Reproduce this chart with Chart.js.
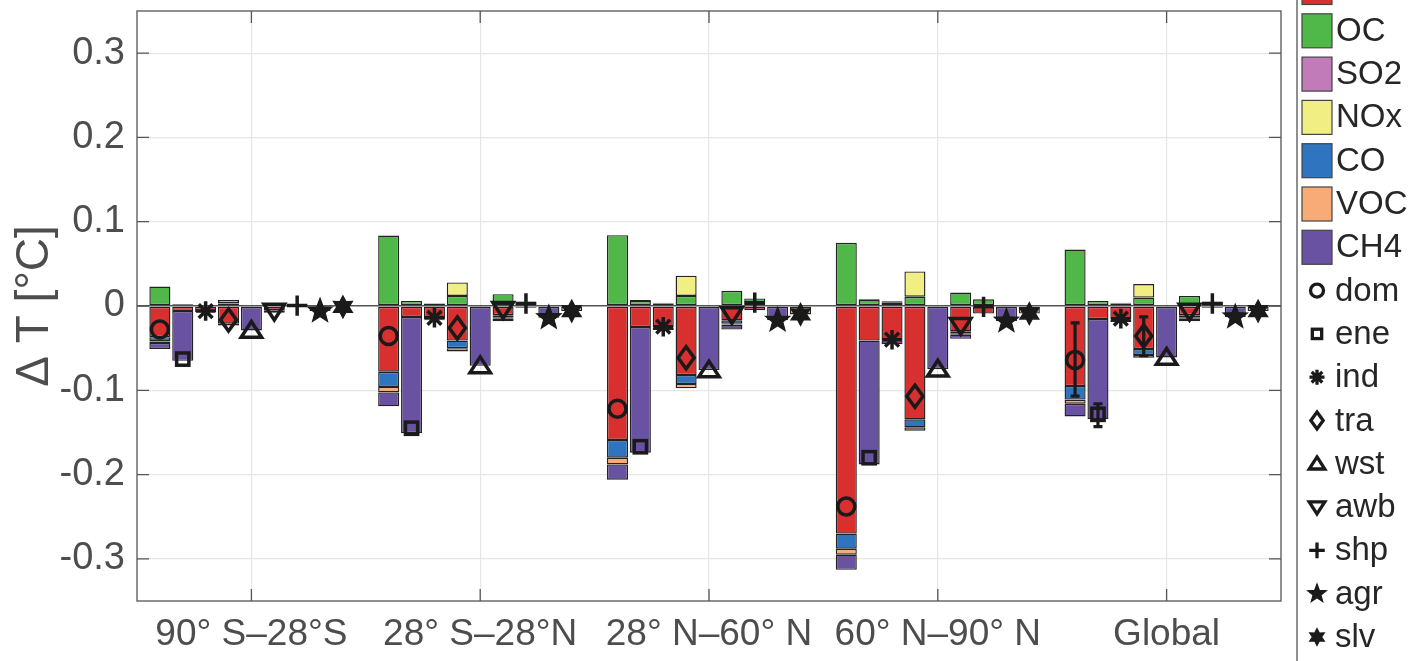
<!DOCTYPE html>
<html>
<head>
<meta charset="utf-8">
<script src="https://cdn.jsdelivr.net/npm/chart.js@4.4.1/dist/chart.umd.min.js"></script>
<style>
  html, body { margin: 0; padding: 0; background: #fff; overflow: hidden; }
  #wrap { width: 1414px; height: 661px; }
</style>
</head>
<body>
<div id="wrap"><canvas id="chart" width="1414" height="661"></canvas></div>
<script>
const regions = ['90° S–28°S', '28° S–28°N', '28° N–60° N', '60° N–90° N', 'Global'];
const species = ['BC', 'OC', 'SO2', 'NOx', 'CO', 'VOC', 'CH4'];
const speciesColors = ['#d7302f', '#50b848', '#c07bb8', '#f1ee84', '#2e74bf', '#f8ab77', '#6952a2'];
const sectors = ['dom', 'ene', 'ind', 'tra', 'wst', 'awb', 'shp', 'agr', 'slv'];
const sectorShapes = ['circle', 'square', 'asterisk', 'diamond', 'triUp', 'triDown', 'plus', 'pentagram', 'hexagram'];
const yTicks = [-0.3, -0.2, -0.1, 0, 0.1, 0.2, 0.3];

// dT [degC] per sector: one row per species (BC..CH4), one column per region
const dom = [
  [-0.037, -0.078, -0.159, -0.270, -0.095],
  [0.023, 0.0835, 0.084, 0.075, 0.067],
  [0, 0, 0, 0, 0],
  [0, 0, 0, 0, 0],
  [-0.005, -0.018, -0.021, -0.018, -0.016],
  [-0.002, -0.0065, -0.008, -0.007, -0.005],
  [-0.007, -0.0165, -0.018, -0.018, -0.015]
];
const ene = [
  [-0.006, -0.013, -0.025, -0.041, -0.0155],
  [0.002, 0.006, 0.006, 0.007, 0.006],
  [0, 0, 0, 0, 0],
  [0, 0, 0.001, 0.001, 0],
  [0, 0, 0, 0, 0],
  [0, 0, 0, 0, 0],
  [-0.059, -0.138, -0.149, -0.147, -0.119]
];
const ind = [
  [-0.006, -0.016, -0.0255, -0.0405, -0.016],
  [0.001, 0.003, 0.003, 0.004, 0.003],
  [0, 0, 0, 0, 0],
  [0, 0, 0.001, 0.0015, 0.001],
  [0, 0, 0, 0, 0],
  [0, 0, 0, 0, 0],
  [-0.001, -0.001, -0.003, -0.005, -0.003]
];
const tra = [
  [-0.021, -0.041, -0.082, -0.1345, -0.051],
  [0.003, 0.012, 0.012, 0.011, 0.010],
  [0, 0, 0, 0, 0],
  [0.004, 0.016, 0.024, 0.030, 0.016],
  [-0.002, -0.009, -0.0105, -0.0095, -0.007],
  [-0.0005, -0.004, -0.005, -0.004, -0.0035],
  [0, 0, 0, 0, 0]
];
const wst = [
  [0, 0, 0, 0, 0],
  [0, 0, 0, 0, 0],
  [0, 0, 0, 0, 0],
  [0, 0, 0, 0, 0],
  [0, 0, 0, 0, 0],
  [0, 0, 0, 0, 0],
  [-0.029, -0.071, -0.076, -0.075, -0.061]
];
const awb = [
  [-0.005, -0.011, -0.017, -0.030, -0.011],
  [0.002, 0.014, 0.018, 0.016, 0.012],
  [0, 0, 0, 0, 0],
  [0, 0, 0, 0, 0],
  [-0.001, -0.003, -0.004, -0.003, -0.003],
  [0, -0.001, -0.001, -0.001, -0.001],
  [-0.002, -0.003, -0.006, -0.005, -0.003]
];
const shp = [
  [-0.0005, -0.002, -0.005, -0.009, -0.002],
  [0.001, 0.005, 0.009, 0.008, 0.005],
  [0, 0, 0, 0, 0],
  [0, 0, 0, 0, 0],
  [0, 0, 0, 0, 0],
  [0, 0, 0, 0, 0],
  [0, 0, 0, 0, 0]
];
const agr = [
  [0, 0, 0, 0, 0],
  [0, 0, 0, 0, 0],
  [0, 0, 0, 0, 0],
  [0, 0, 0, 0, 0],
  [0, 0, 0, 0, 0],
  [0, 0, 0, 0, 0],
  [-0.006, -0.014, -0.017, -0.018, -0.013]
];
const slv = [
  [0, 0, 0, 0, 0],
  [0, 0, 0, 0, 0],
  [0, 0, 0, 0, 0],
  [0, 0, 0, 0, 0],
  [0, 0, 0, 0, 0],
  [-0.001, -0.006, -0.010, -0.009, -0.006],
  [0, 0, 0, 0, 0]
];

// uncertainty ranges shown for the Global column only
const errSectors = ['dom', 'ene', 'tra'];
const errLow = [-0.107, -0.143, -0.059];
const errHigh = [-0.020, -0.116, -0.013];

const sectorData = [dom, ene, ind, tra, wst, awb, shp, agr, slv];
const totals = sectorData.map(rows =>
  regions.map((r, j) => rows.reduce((sum, row) => sum + row[j], 0)));

const FONT = "'Liberation Sans', Arial, sans-serif";
const MARK = '#1a1a1a';

const datasets = [];
sectorData.forEach((rows, k) => {
  rows.forEach((vals, s) => {
    datasets.push({
      label: species[s],
      stack: sectors[k],
      data: vals.map(v => (v === 0 ? null : v)),
      backgroundColor: speciesColors[s],
      borderColor: '#222',
      borderWidth: 1.4,
      borderSkipped: false,
      categoryPercentage: 0.9,
      barPercentage: 0.92
    });
  });
});

function drawMarker(ctx, shape, x, y, s) {
  ctx.beginPath();
  switch (shape) {
    case 'circle':
      ctx.arc(x, y, s, 0, Math.PI * 2);
      ctx.stroke();
      break;
    case 'square':
      ctx.strokeRect(x - s * 0.72, y - s * 0.72, s * 1.44, s * 1.44);
      break;
    case 'asterisk':
      for (let a = 0; a < 4; a++) {
        const ang = a * Math.PI / 4;
        ctx.moveTo(x - Math.cos(ang) * s * 1.15, y - Math.sin(ang) * s * 1.15);
        ctx.lineTo(x + Math.cos(ang) * s * 1.15, y + Math.sin(ang) * s * 1.15);
      }
      ctx.stroke();
      break;
    case 'diamond':
      ctx.moveTo(x, y - s * 1.3);
      ctx.lineTo(x + s * 0.95, y);
      ctx.lineTo(x, y + s * 1.3);
      ctx.lineTo(x - s * 0.95, y);
      ctx.closePath();
      ctx.stroke();
      break;
    case 'triUp':
      ctx.moveTo(x, y - s * 1.05);
      ctx.lineTo(x + s * 1.2, y + s * 0.8);
      ctx.lineTo(x - s * 1.2, y + s * 0.8);
      ctx.closePath();
      ctx.stroke();
      break;
    case 'triDown':
      ctx.moveTo(x, y + s * 1.05);
      ctx.lineTo(x + s * 1.2, y - s * 0.8);
      ctx.lineTo(x - s * 1.2, y - s * 0.8);
      ctx.closePath();
      ctx.stroke();
      break;
    case 'plus':
      ctx.moveTo(x - s * 1.2, y);
      ctx.lineTo(x + s * 1.2, y);
      ctx.moveTo(x, y - s * 1.2);
      ctx.lineTo(x, y + s * 1.2);
      ctx.stroke();
      break;
    case 'pentagram':
    case 'hexagram': {
      const n = shape === 'pentagram' ? 5 : 6;
      const ro = shape === 'pentagram' ? s * 1.5 : s * 1.3;
      const ri = shape === 'pentagram' ? ro * 0.42 : ro * 0.55;
      for (let i = 0; i < n * 2; i++) {
        const r = i % 2 === 0 ? ro : ri;
        const ang = -Math.PI / 2 + i * Math.PI / n;
        const px = x + Math.cos(ang) * r, py = y + Math.sin(ang) * r;
        if (i === 0) ctx.moveTo(px, py); else ctx.lineTo(px, py);
      }
      ctx.closePath();
      ctx.fill();
      ctx.lineWidth = 1.2;
      ctx.stroke();
      break;
    }
  }
}

function stackCenters(chart, k) {
  // x pixel of the bars of sector k in each region, taken from the bar elements
  for (let d = 0; d < chart.data.datasets.length; d++) {
    if (chart.data.datasets[d].stack !== sectors[k]) continue;
    const meta = chart.getDatasetMeta(d);
    if (meta.data.length && isFinite(meta.data[0].x)) return meta.data.map(el => el.x);
  }
  return [];
}

const overlay = {
  id: 'overlay',
  afterDatasetsDraw(chart) {
    const ctx = chart.ctx;
    const y = chart.scales.y;
    ctx.save();
    ctx.strokeStyle = MARK;
    ctx.fillStyle = MARK;
    ctx.lineCap = 'butt';
    ctx.lineJoin = 'miter';
    // error bars (Global)
    errSectors.forEach((name, i) => {
      const k = sectors.indexOf(name);
      const xs = stackCenters(chart, k);
      const x = xs[regions.length - 1];
      const y1 = y.getPixelForValue(errLow[i]), y2 = y.getPixelForValue(errHigh[i]);
      ctx.lineWidth = 3.2;
      ctx.beginPath();
      ctx.moveTo(x, y1); ctx.lineTo(x, y2);
      ctx.moveTo(x - 4.5, y1); ctx.lineTo(x + 4.5, y1);
      ctx.moveTo(x - 4.5, y2); ctx.lineTo(x + 4.5, y2);
      ctx.stroke();
    });
    // net markers
    sectors.forEach((name, k) => {
      const xs = stackCenters(chart, k);
      totals[k].forEach((t, j) => {
        ctx.lineWidth = 3.5;
        drawMarker(ctx, sectorShapes[k], xs[j], y.getPixelForValue(t), 8.5);
      });
    });
    ctx.restore();
  },
  afterDraw(chart) {
    const ctx = chart.ctx;
    const a = chart.chartArea;
    const xs = chart.scales.x, ys = chart.scales.y;
    ctx.save();
    // axes box with inward ticks
    ctx.strokeStyle = '#555';
    ctx.lineWidth = 1.3;
    ctx.strokeRect(a.left, a.top, a.right - a.left, a.bottom - a.top);
    ctx.beginPath();
    yTicks.forEach(v => {
      const py = ys.getPixelForValue(v);
      ctx.moveTo(a.left, py); ctx.lineTo(a.left + 12, py);
      ctx.moveTo(a.right, py); ctx.lineTo(a.right - 12, py);
    });
    regions.forEach((r, j) => {
      const px = xs.getPixelForValue(j);
      ctx.moveTo(px, a.top); ctx.lineTo(px, a.top + 12);
      ctx.moveTo(px, a.bottom); ctx.lineTo(px, a.bottom - 12);
    });
    ctx.stroke();

    // legend box, cropped at the top like the source figure
    const lx = 1297, top = -12.5, step = 43.3;
    ctx.fillStyle = '#fff';
    ctx.fillRect(lx, -20, 200, 720);
    ctx.strokeStyle = '#555';
    ctx.lineWidth = 1.3;
    ctx.strokeRect(lx, -20, 200, 720);
    ctx.font = '33px ' + FONT;
    ctx.textBaseline = 'middle';
    ctx.textAlign = 'left';
    species.forEach((sp, i) => {
      const cy = top + step * i;
      ctx.fillStyle = speciesColors[i];
      ctx.fillRect(1302, cy - 17, 30, 34);
      ctx.strokeStyle = '#444';
      ctx.lineWidth = 1.2;
      ctx.strokeRect(1302, cy - 17, 30, 34);
      ctx.fillStyle = '#262626';
      ctx.fillText(sp, 1336, cy + 1);
    });
    sectors.forEach((name, k) => {
      const cy = top + step * (species.length + k);
      ctx.strokeStyle = MARK;
      ctx.fillStyle = MARK;
      ctx.lineWidth = 3.3;
      drawMarker(ctx, sectorShapes[k], 1317, cy, 6.5);
      ctx.fillStyle = '#262626';
      ctx.fillText(name, 1335, cy + 1);
    });
    ctx.restore();
  }
};

new Chart(document.getElementById('chart'), {
  type: 'bar',
  data: { labels: regions, datasets: datasets },
  options: {
    responsive: false,
    animation: false,
    layout: { padding: { top: 11, right: 133, left: 0, bottom: 0 } },
    plugins: { legend: { display: false }, tooltip: { enabled: false } },
    scales: {
      x: {
        stacked: true,
        grid: { offset: false, color: '#e6e6e6', lineWidth: 1.2, drawTicks: false },
        border: { display: false },
        ticks: { color: '#4d4d4d', font: { family: FONT, size: 37 }, padding: 12, maxRotation: 0, autoSkip: false },
        afterFit(scale) {
          scale.height = 60;
          scale.paddingLeft = 0;
          scale.paddingRight = 0;
        }
      },
      y: {
        stacked: true,
        min: -0.35,
        max: 0.35,
        afterBuildTicks(scale) { scale.ticks = yTicks.map(v => ({ value: v })); },
        grid: {
          drawTicks: false,
          color: ctx => (ctx.tick && ctx.tick.value === 0 ? '#555' : '#e6e6e6'),
          lineWidth: ctx => (ctx.tick && ctx.tick.value === 0 ? 1.5 : 1.2)
        },
        border: { display: false },
        ticks: {
          color: '#4d4d4d',
          font: { family: FONT, size: 38 },
          padding: 12,
          callback: v => String(Math.round(v * 10) / 10)
        },
        title: {
          display: true,
          text: 'Δ T [°C]',
          color: '#4d4d4d',
          font: { family: FONT, size: 46 },
          padding: { top: 8, bottom: 0 }
        },
        afterFit(scale) {
          scale.width = 137;
          scale.paddingTop = 0;
          scale.paddingBottom = 0;
        }
      }
    }
  },
  plugins: [overlay]
});
</script>
</body>
</html>
